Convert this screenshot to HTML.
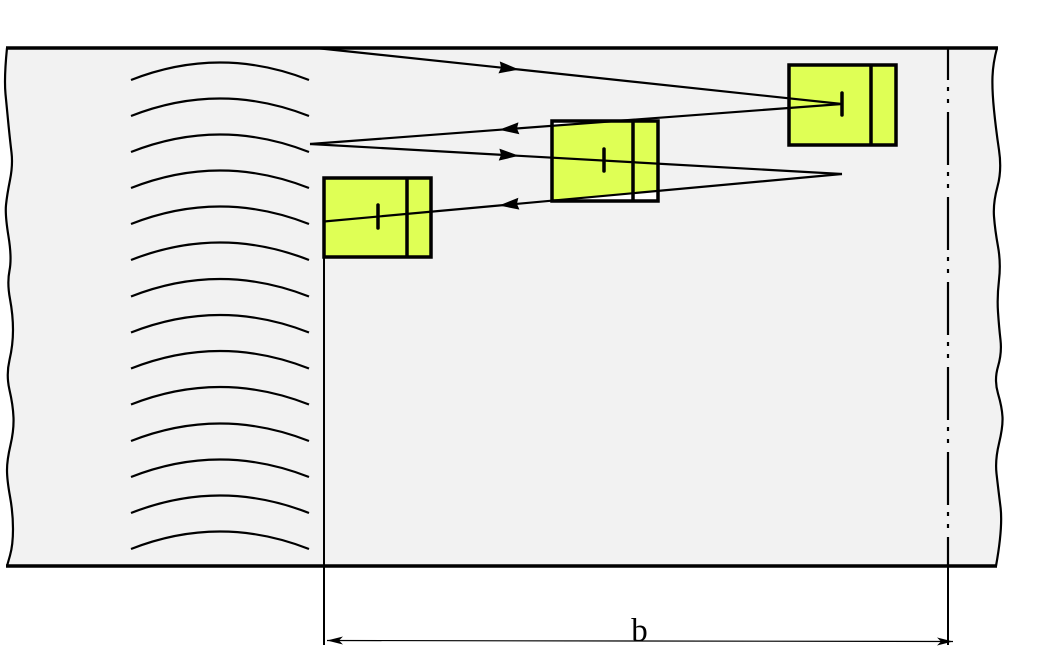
<!DOCTYPE html>
<html><head><meta charset="utf-8"><style>
html,body{margin:0;padding:0;background:#fff;}
svg{display:block;}
</style></head><body>
<svg width="1039" height="647" viewBox="0 0 1039 647" xmlns="http://www.w3.org/2000/svg">
<defs>
<marker id="ah" markerUnits="userSpaceOnUse" viewBox="0 0 20 12" markerWidth="20" markerHeight="12" refX="20" refY="6" orient="auto">
<path d="M0,0 L20,6 L0,12 L2,6 z" fill="#000"/>
</marker>
<marker id="dh" markerUnits="userSpaceOnUse" viewBox="0 0 16 8" markerWidth="16" markerHeight="8" refX="16" refY="4" orient="auto">
<path d="M0,0 L16,4 L0,8 L4,4 z" fill="#000"/>
</marker>
</defs>
<!-- background fill -->
<path d="M7,48 Q4,78 5.5,94 Q7,110 8.5,125 Q10,140 11.5,152.5 Q13,165 10,180 Q7,195 6,205 Q5,215 8.5,236.5 Q12,258 9.5,270.5 Q7,283 10,299 Q13,315 13,330 Q13,345 9.5,360 Q6,375 9.5,390 Q13,405 13.5,417.5 Q14,430 10.5,445 Q7,460 7,470 Q7,480 10,496.5 Q13,513 13,529 Q13,545 10,555.5 L7,566 L991,566 L991,48 Z" fill="#f2f2f2"/>
<path d="M997,48 Q993,63 992.5,76.5 Q992,90 994,110 Q996,130 999,150 Q1002,170 997.5,186.5 Q993,203 994,216.5 Q995,230 998,246.5 Q1001,263 999,280 Q997,297 998,312 Q999,327 1000.5,340 Q1002,353 998,366.5 Q994,380 998,393.5 Q1002,407 1002.5,417 Q1003,427 999,443.5 Q995,460 996.5,473.5 Q998,487 1000.5,507 Q1003,527 996,566 L990,566 L990,48 Z" fill="#f2f2f2"/>
<!-- wavy edges -->
<path d="M7,48 Q4,78 5.5,94 Q7,110 8.5,125 Q10,140 11.5,152.5 Q13,165 10,180 Q7,195 6,205 Q5,215 8.5,236.5 Q12,258 9.5,270.5 Q7,283 10,299 Q13,315 13,330 Q13,345 9.5,360 Q6,375 9.5,390 Q13,405 13.5,417.5 Q14,430 10.5,445 Q7,460 7,470 Q7,480 10,496.5 Q13,513 13,529 Q13,545 10,555.5 L7,566" fill="none" stroke="#000" stroke-width="2.2"/>
<path d="M997,48 Q993,63 992.5,76.5 Q992,90 994,110 Q996,130 999,150 Q1002,170 997.5,186.5 Q993,203 994,216.5 Q995,230 998,246.5 Q1001,263 999,280 Q997,297 998,312 Q999,327 1000.5,340 Q1002,353 998,366.5 Q994,380 998,393.5 Q1002,407 1002.5,417 Q1003,427 999,443.5 Q995,460 996.5,473.5 Q998,487 1000.5,507 Q1003,527 996,566" fill="none" stroke="#000" stroke-width="2.2"/>
<!-- top & bottom lines -->
<line x1="6" y1="48" x2="998" y2="48" stroke="#000" stroke-width="3.5"/>
<line x1="6" y1="566" x2="997" y2="566" stroke="#000" stroke-width="3.5"/>
<!-- arcs -->
<g fill="none" stroke="#000" stroke-width="2.2">
<path d="M131,80 Q220,45 309,80"/>
<path d="M131,116 Q220,81 309,116"/>
<path d="M131,152 Q220,117 309,152"/>
<path d="M131,188 Q220,153 309,188"/>
<path d="M131,224 Q220,189 309,224"/>
<path d="M131,260 Q220,225 309,260"/>
<path d="M131,296.5 Q220,261.5 309,296.5"/>
<path d="M131,332.5 Q220,297.5 309,332.5"/>
<path d="M131,368.5 Q220,333.5 309,368.5"/>
<path d="M131,404.5 Q220,369.5 309,404.5"/>
<path d="M131,441 Q220,406 309,441"/>
<path d="M131,477 Q220,442 309,477"/>
<path d="M131,513 Q220,478 309,513"/>
<path d="M131,549 Q220,514 309,549"/>
</g>
<!-- dash-dot center line -->
<line x1="948" y1="48" x2="948" y2="566" stroke="#000" stroke-width="2.2" stroke-dasharray="53 7 4 8 4 9" stroke-dashoffset="21"/>
<line x1="948" y1="566" x2="948" y2="645" stroke="#000" stroke-width="2"/>
<!-- box 1 -->
<rect x="789" y="65" width="107" height="80" fill="#dfff55" stroke="#000" stroke-width="3.5"/>
<line x1="871" y1="65" x2="871" y2="145" stroke="#000" stroke-width="3.5"/>
<!-- box 2 -->
<rect x="552" y="121" width="106" height="80" fill="#fff" stroke="none"/>
<polygon points="552,126 629,121 658,121 658,191 552,200.5" fill="#dfff55"/>
<rect x="552" y="121" width="106" height="80" fill="none" stroke="#000" stroke-width="3.5"/>
<line x1="633" y1="121" x2="633" y2="201" stroke="#000" stroke-width="3.5"/>
<!-- box 3 -->
<rect x="324" y="178" width="107" height="79" fill="#dfff55" stroke="#000" stroke-width="3.5"/>
<line x1="407" y1="178" x2="407" y2="257" stroke="#000" stroke-width="3.5"/>
<!-- vertical left dimension line -->
<line x1="324" y1="257" x2="324" y2="645" stroke="#000" stroke-width="2"/>
<!-- ticks -->
<g stroke="#000" stroke-width="3.5" stroke-linecap="round">
<line x1="842" y1="93" x2="842" y2="115"/>
<line x1="604" y1="149" x2="604" y2="171"/>
<line x1="378" y1="205" x2="378" y2="228"/>
</g>
<!-- zigzag lines -->
<g fill="none" stroke="#000" stroke-width="2.2">
<path d="M316,48 L519,69.5 L842,104" marker-mid="url(#ah)"/>
<path d="M842,104 L499,129.8 L310,144" marker-mid="url(#ah)"/>
<path d="M310,144 L519,155.8 L842,174" marker-mid="url(#ah)"/>
<path d="M842,174 L499,205.5 L324,221.5" marker-mid="url(#ah)"/>
</g>
<!-- dimension line -->
<path d="M640,641 L327,640.5" fill="none" stroke="#000" stroke-width="1.2" marker-end="url(#dh)"/>
<path d="M640,641 L953,641.5" fill="none" stroke="#000" stroke-width="1.2" marker-end="url(#dh)"/>
<text x="639.5" y="641" font-family="'Liberation Serif', serif" font-size="33" text-anchor="middle" fill="#000">b</text>
</svg>
</body></html>
